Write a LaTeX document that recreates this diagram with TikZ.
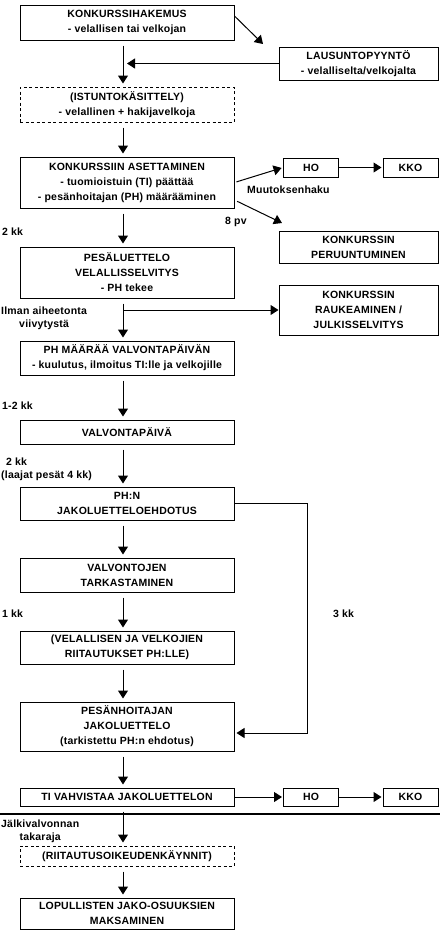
\documentclass[tikz,border=0pt]{standalone}
\usepackage{fontspec}
\setmainfont{Liberation Sans}[LetterSpace=2]
\usetikzlibrary{arrows.meta}
\begin{document}
\begin{tikzpicture}[
      x=1pt, y=-1pt,
      every node/.style={font=\bfseries\fontsize{10.5}{15}\selectfont, inner sep=0pt},
      box/.style={draw, line width=1pt, align=center, minimum width=214pt},
      sidebox/.style={box, minimum width=159pt},
      smallbox/.style={box, minimum width=55pt},
      dashbox/.style={box, dash pattern=on 3pt off 2.5pt},
      note/.style={align=center, font=\bfseries\fontsize{10.5}{13}\selectfont},
      arr/.style={-{Triangle[width=10pt,length=8pt]}, line width=1pt, shorten <=5pt, shorten >=3pt}
    ]
    \useasboundingbox (0,0) rectangle (440,938);
    \coordinate (spine) at (123,0);

    \node[box, minimum height=35pt] (hakemus) at (127,22.5) {KONKURSSIHAKEMUS\\- velallisen tai velkojan};
    \node[sidebox, minimum height=33pt] (lausunto) at (358.5,63.5) {LAUSUNTOPYYNTÖ\\- velalliselta/velkojalta};
    \node[dashbox, minimum height=35pt] (istunto) at (127,104.5) {(ISTUNTOKÄSITTELY)\\- velallinen + hakijavelkoja};
    \node[box, minimum height=51pt] (asettaminen) at (127,182.5) {KONKURSSIIN ASETTAMINEN\\- tuomioistuin (TI) päättää\\- pesänhoitajan (PH) määrääminen};
    \node[smallbox, minimum height=19pt] (ho) at (311,167.5) {HO};
    \node[smallbox, minimum height=19pt] (kko) at (410.5,167.5) {KKO};
    \node[sidebox, minimum height=32pt] (peruuntuminen) at (358.5,247) {KONKURSSIN\\PERUUNTUMINEN};
    \node[box, minimum height=51pt] (pesaluettelo) at (127,272.5) {PESÄLUETTELO\\VELALLISSELVITYS\\- PH tekee};
    \node[sidebox, minimum height=50pt] (raukeaminen) at (358.5,310) {KONKURSSIN\\RAUKEAMINEN /\\JULKISSELVITYS};
    \node[box, minimum height=34pt] (valvontapaivan) at (127,358) {PH MÄÄRÄÄ VALVONTAPÄIVÄN\\- kuulutus, ilmoitus TI:lle ja velkojille};
    \node[box, minimum height=24pt] (valvontapaiva) at (127,432) {VALVONTAPÄIVÄ};
    \node[box, minimum height=33pt] (ehdotus) at (127,503.5) {PH:N\\JAKOLUETTELOEHDOTUS};
    \node[box, minimum height=34pt] (tarkastaminen) at (127,575) {VALVONTOJEN\\TARKASTAMINEN};
    \node[box, minimum height=33pt] (riitautukset) at (127,647.5) {(VELALLISEN JA VELKOJIEN\\RIITAUTUKSET PH:LLE)};
    \node[box, minimum height=49pt] (jakoluettelo) at (127,726.5) {PESÄNHOITAJAN\\JAKOLUETTELO\\(tarkistettu PH:n ehdotus)};
    \node[box, minimum height=18pt] (vahvistaa) at (127,797) {TI VAHVISTAA JAKOLUETTELON};
    \node[smallbox, minimum height=18pt] (ho2) at (311,797) {HO};
    \node[smallbox, minimum height=18pt] (kko2) at (410.5,797) {KKO};
    \node[dashbox, minimum height=20pt] (oikeudenkaynnit) at (127,856) {(RIITAUTUSOIKEUDENKÄYNNIT)};
    \node[box, minimum height=31pt] (maksaminen) at (127,913.5) {LOPULLISTEN JAKO-OSUUKSIEN\\MAKSAMINEN};

    \node[note, anchor=west] (muutoksenhaku) at (247,190) {Muutoksenhaku};
    \node[note, anchor=west] (pv) at (225,222) {8 pv};
    \node[note, anchor=west] (kk2) at (2,232) {2 kk};
    \node[note, anchor=west] (viivytys) at (1,318.5) {Ilman aiheetonta\\viivytystä};
    \node[note, anchor=west] (kk12) at (2,406) {1-2 kk};
    \node[note, align=left, anchor=west] (kk24) at (1,469) {\hspace*{5pt}2 kk\\(laajat pesät 4 kk)};
    \node[note, anchor=west] (kk1) at (2,614) {1 kk};
    \node[note, anchor=west] (kk3) at (333,614) {3 kk};
    \node[note, anchor=west] (takaraja) at (1,831.5) {Jälkivalvonnan\\takaraja};

    \foreach \a/\b in {hakemus/istunto, istunto/asettaminen, asettaminen/pesaluettelo,
        pesaluettelo/valvontapaivan, valvontapaivan/valvontapaiva, valvontapaiva/ehdotus,
        ehdotus/tarkastaminen, tarkastaminen/riitautukset, riitautukset/jakoluettelo,
        jakoluettelo/vahvistaa, vahvistaa/oikeudenkaynnit, oikeudenkaynnit/maksaminen}
      \draw[arr] (\a.south -| spine) -- (\b.north -| spine);

    \coordinate (lausuntoon) at (263,44);
    \coordinate (peruuntumiseen) at (282,223);
    \draw[arr, shorten <=0pt, shorten >=0pt] ([yshift=6.5pt]hakemus.east) -- (lausuntoon);
    \draw[arr, shorten <=0pt, shorten >=0pt] (lausunto.west) -- (lausunto.west -| hakemus.south);
    \draw[arr, shorten <=2pt, shorten >=1.5pt] (asettaminen.east) -- (ho.west);
    \draw[arr, shorten <=0pt, shorten >=1pt] (ho.east) -- (kko.west);
    \draw[arr, shorten <=3pt, shorten >=0pt] ([yshift=-17.5pt]asettaminen.east) -- (peruuntumiseen);
    \draw[arr, shorten <=0pt, shorten >=0pt] (raukeaminen.west -| spine) -- (raukeaminen.west);
    \draw[arr, shorten <=0pt, shorten >=2pt] (ehdotus.east) -- ++(73,0) |- ([yshift=-6.5pt]jakoluettelo.east);
    \draw[arr, shorten <=0pt, shorten >=1pt] (vahvistaa.east) -- (ho2.west);
    \draw[arr, shorten <=0pt, shorten >=1pt] (ho2.east) -- (kko2.west);

    \draw[line width=2.5pt] (0,814) -- (440,814);
\end{tikzpicture}
\end{document}
